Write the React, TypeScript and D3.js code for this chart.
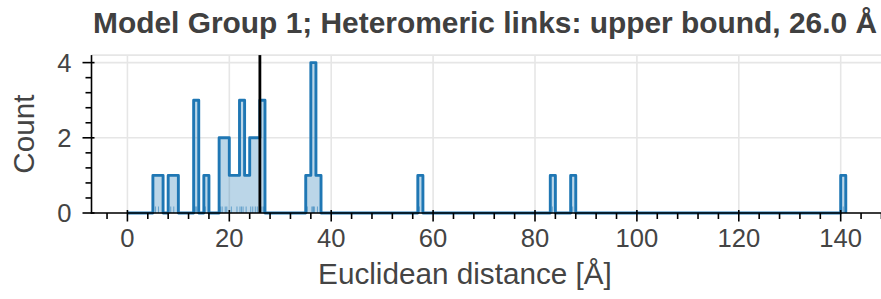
import React from "react";
import * as d3 from "d3";

// Euclidean distances (Å) of heteromeric links
const distances: number[] = [
  5.5, 6.1, 8.5, 9.1,
  13.2, 13.4, 13.6, 15.3,
  18.3, 18.6, 19.2, 19.5, 20.4, 21.5,
  22.1, 22.4, 22.7, 23.3, 24.2, 24.6, 25.1, 25.5,
  26.1, 26.4, 26.7,
  35.3, 36.2, 36.4, 36.5, 36.7, 37.3,
  57.3, 83.4, 87.4, 140.5,
];
const binRange: [number, number] = [0, 141];
const binWidth = 1;
const upperBound = 26.0;
const xMajorTicks = [0, 20, 40, 60, 80, 100, 120, 140];
const yMajorTicks = [0, 2, 4];
const titleText = "Model Group 1; Heteromeric links: upper bound, 26.0 Å";
const xLabel = "Euclidean distance [Å]";
const yLabel = "Count";

const W = 881;
const H = 299;
const BLUE = "#1f77b4";
const FONT = "'Liberation Sans', Arial, Helvetica, sans-serif";

export default function App() {
  const x = d3.scaleLinear().domain([-7.05, 148.05]).range([91.5, 881.7]);
  const y = d3.scaleLinear().domain([0, 4.2]).range([213, 55.1]);

  const thresholds = d3.range(binRange[0] + binWidth, binRange[1], binWidth);
  const bins = d3
    .bin<number, number>()
    .domain(binRange)
    .thresholds(thresholds)(distances);

  const pts: [number, number][] = [];
  pts.push([bins[0].x0 as number, 0]);
  bins.forEach((b) => {
    pts.push([b.x0 as number, b.length]);
    pts.push([b.x1 as number, b.length]);
  });
  pts.push([bins[bins.length - 1].x1 as number, 0]);

  const line = d3
    .line<[number, number]>()
    .x((d) => x(d[0]))
    .y((d) => y(d[1]));
  const area = d3
    .area<[number, number]>()
    .x((d) => x(d[0]))
    .y0(y(0))
    .y1((d) => y(d[1]));

  const xMinor = d3.range(-4, 149, 4).filter((v) => v % 20 !== 0);
  const yMinor = d3.range(0, 4.01, 0.4).filter((v) => Math.abs(v / 2 - Math.round(v / 2)) > 1e-6);

  const [x0, x1] = x.range();
  const [yb, yt] = y.range();

  return (
    <svg
      width={W}
      height={H}
      style={{ position: "absolute", left: 0, top: 0, background: "#fff" }}
      fontFamily={FONT}
    >
      <rect x={0} y={0} width={W} height={H} fill="#fff" />
      {/* grid */}
      <g stroke="#e6e6e6" strokeWidth={1.6}>
        {xMajorTicks.map((t) => (
          <line key={"gx" + t} x1={x(t)} x2={x(t)} y1={yt} y2={yb} />
        ))}
        {yMajorTicks.map((t) => (
          <line key={"gy" + t} x1={x0} x2={x1} y1={y(t)} y2={y(t)} />
        ))}
        <line x1={x0} x2={x1} y1={yt} y2={yt} />
      </g>
      {/* histogram */}
      <path d={area(pts) || ""} fill={BLUE} fillOpacity={0.3} stroke="none" />
      <g stroke={BLUE} strokeOpacity={0.55} strokeWidth={1}>
        {distances.map((d, i) => (
          <line key={"r" + i} x1={x(d)} x2={x(d)} y1={y(0)} y2={y(0) - 6.5} />
        ))}
      </g>
      <path d={line(pts) || ""} fill="none" stroke={BLUE} strokeWidth={2.9} strokeLinejoin="round" />
      {/* upper bound */}
      <line x1={x(upperBound)} x2={x(upperBound)} y1={yt} y2={yb} stroke="#000" strokeWidth={2.8} />
      {/* spines */}
      <g stroke="#000" strokeWidth={1.6}>
        <line x1={x0} x2={x0} y1={yt} y2={yb + 0.8} />
        <line x1={x0 - 0.8} x2={x1} y1={yb} y2={yb} />
        {xMajorTicks.map((t) => (
          <line key={"tx" + t} x1={x(t)} x2={x(t)} y1={yb - 3} y2={yb + 8.5} />
        ))}
        {xMinor.map((t) => (
          <line key={"mx" + t} x1={x(t)} x2={x(t)} y1={yb} y2={yb + 6} />
        ))}
        {yMajorTicks.map((t) => (
          <line key={"ty" + t} x1={x0 - 9} x2={x0 + 3} y1={y(t)} y2={y(t)} />
        ))}
        {yMinor.map((t) => (
          <line key={"my" + t} x1={x0 - 6} x2={x0} y1={y(t)} y2={y(t)} />
        ))}
      </g>
      {/* tick labels */}
      <g fill="#444" fontSize={25.6}>
        {xMajorTicks.map((t) => (
          <text key={"lx" + t} x={x(t)} y={247} textAnchor="middle">
            {t}
          </text>
        ))}
        {yMajorTicks.map((t) => (
          <text key={"ly" + t} x={71.5} y={y(t) + 9.2} textAnchor="end">
            {t}
          </text>
        ))}
      </g>
      {/* axis labels */}
      <text x={465} y={284} textAnchor="middle" fontSize={29.7} fill="#444">
        {xLabel}
      </text>
      <text
        transform={`translate(33.5, ${(yt + yb) / 2}) rotate(-90)`}
        textAnchor="middle"
        fontSize={29.7}
        fill="#444"
      >
        {yLabel}
      </text>
      {/* title */}
      <text
        x={93}
        y={33.3}
        fontSize={29.5}
        fontWeight="bold"
        fill="#404040"
        textLength={784}
        lengthAdjust="spacingAndGlyphs"
      >
        {titleText}
      </text>
    </svg>
  );
}
